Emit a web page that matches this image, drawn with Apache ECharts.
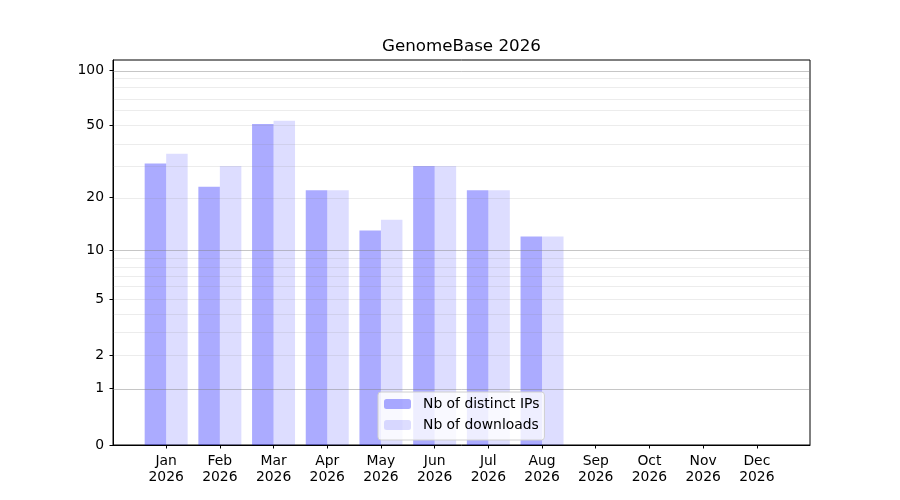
<!DOCTYPE html>
<html>
<head>
    <meta charset="UTF-8">
    <title>GenomeBase 2026</title>
    <script type="text/javascript" src="https://cdn.jsdelivr.net/npm/echarts@6/dist/echarts.min.js"></script>
    <style>
        *{margin:0;padding:0}
        html,body{width:100%;height:100%;background:#fff}
        #main{width:900px;height:500px}
    </style>
</head>
<body>
<div id="main"></div>

<script type="text/javascript">
    // 数据
    var months = ['Jan','Feb','Mar','Apr','May','Jun','Jul','Aug','Sep','Oct','Nov','Dec'];
    var year = '2026';
    var distinctIPs = [31, 23, 51, 22, 13, 30, 22, 12, 0, 0, 0, 0];
    var downloads  = [35, 30, 53, 22, 15, 30, 22, 12, 0, 0, 0, 0];
    var yTicks = [0, 1, 2, 5, 10, 20, 50, 100];
    var majorGrid = [1, 10, 100];
    var minorGrid = [2, 3, 4, 5, 6, 7, 8, 9, 20, 30, 40, 50, 60, 70, 80, 90];
    var yMaxValue = 113.2;

    // y 轴变换 log10(1+x)
    function fwd(v) { return Math.log10(1 + v); }
    function inv(t) { return Math.round(Math.pow(10, t) - 1); }

    function toPairs(arr) {
        return arr.map(function (v, i) { return [i, fwd(v)]; });
    }

    var font = 'DejaVu Sans';
    var monthIdx = months.map(function (m, i) { return i; });

    var option = {
        animation: false,
        textStyle: {fontFamily: font},
        title: {
            text: 'GenomeBase ' + year,
            left: 382,
            top: 38,
            padding: 0,
            textStyle: {fontFamily: font, fontSize: 16.7, fontWeight: 'normal', color: '#000'}
        },
        legend: {
            orient: 'vertical',
            left: 378,
            top: 392,
            itemWidth: 27,
            itemHeight: 10,
            itemGap: 7,
            padding: [5, 5, 8, 6],
            backgroundColor: 'rgba(255,255,255,0.8)',
            borderColor: '#d0d0d0',
            borderWidth: 1,
            borderRadius: 3,
            textStyle: {fontFamily: font, fontSize: 13.9, color: '#000', padding: [0, 0, 0, 7]},
            data: ['Nb of distinct IPs', 'Nb of downloads']
        },
        grid: {
            left: 113, right: 90, top: 60, bottom: 55,
            show: true, borderColor: '#000', borderWidth: 1
        },
        xAxis: {
            type: 'value',
            min: -0.99,
            max: 11.99,
            axisLine: {show: true, onZero: false, lineStyle: {color: '#000', width: 1}},
            splitLine: {show: false},
            axisTick: {show: true, length: 3.5, lineStyle: {color: '#000'}, customValues: monthIdx},
            axisLabel: {
                customValues: monthIdx,
                margin: 8,
                color: '#000',
                fontFamily: font,
                fontSize: 13.9,
                lineHeight: 16,
                formatter: function (v) {
                    var m = months[Math.round(v)];
                    return m ? m + '\n' + year : '';
                }
            }
        },
        yAxis: {
            type: 'value',
            min: 0,
            max: fwd(yMaxValue),
            axisLine: {show: true, onZero: false, lineStyle: {color: '#000', width: 1}},
            splitLine: {show: false},
            axisTick: {show: true, length: 3.5, lineStyle: {color: '#000', width: 1}, customValues: yTicks.map(fwd)},
            axisLabel: {
                customValues: yTicks.map(fwd),
                margin: 9,
                color: '#000',
                fontFamily: font,
                fontSize: 13.9,
                formatter: function (v) { return String(inv(v)); }
            }
        },
        series: [
            {
                name: 'Nb of distinct IPs',
                type: 'bar',
                barWidth: 21.5,
                barGap: '0%',
                itemStyle: {color: 'rgba(0,0,255,0.33)'},
                data: toPairs(distinctIPs),
                markLine: {
                    silent: true,
                    symbol: 'none',
                    label: {show: false},
                    z: 5,
                    data: minorGrid.map(function (v) {
                        return {yAxis: fwd(v), lineStyle: {color: 'rgba(128,128,128,0.15)', width: 1, type: 'solid'}};
                    }).concat(majorGrid.map(function (v) {
                        return {yAxis: fwd(v), lineStyle: {color: 'rgba(128,128,128,0.45)', width: 1, type: 'solid'}};
                    }))
                }
            },
            {
                name: 'Nb of downloads',
                type: 'bar',
                barWidth: 21.5,
                barGap: '0%',
                itemStyle: {color: 'rgba(0,0,255,0.135)'},
                data: toPairs(downloads)
            }
        ]
    };

    var myChart = echarts.init(document.getElementById('main'));
    myChart.setOption(option);
</script>
</body>
</html>
